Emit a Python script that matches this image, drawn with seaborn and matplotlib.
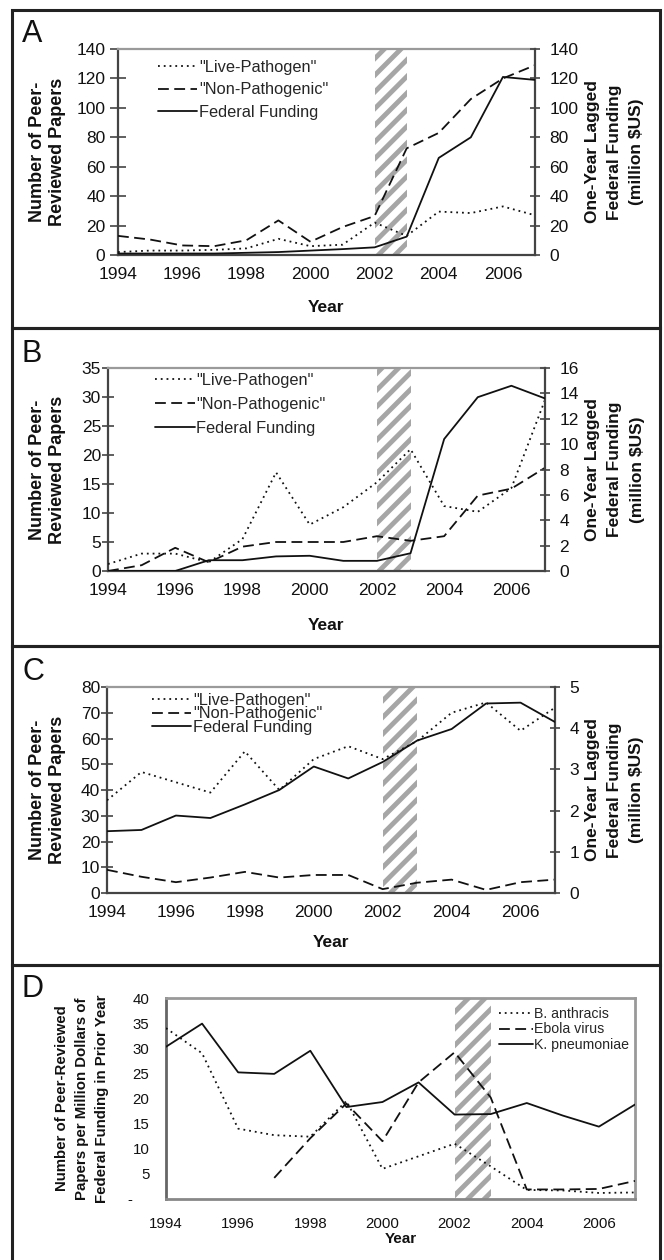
import pandas as pd
import seaborn as sns
import matplotlib.pyplot as plt
from matplotlib.patches import Rectangle

# data
years = list(range(1994, 2008))

a_live = [2, 3, 3, 3.5, 4.5, 11, 6, 7, 22, 13, 29.5, 28.5, 33, 27]
a_nonpath = [13, 10.5, 6.5, 6, 10, 23.5, 9, 19, 26.5, 72.5, 83, 106, 120, 129]
a_funding = [1, 1, 1, 1, 1.5, 2, 3, 4, 5.2, 12.5, 66, 80, 121, 119]

b_live = [1.2, 3, 3, 1.5, 5.5, 17, 8, 11, 15.3, 21, 11.2, 10.2, 14.3, 29.5]
b_nonpath = [0, 1, 4, 1.5, 4.2, 5, 5, 5, 6, 5.2, 6, 13, 14.2, 17.8]
b_funding = [0, 0, 0, 0.85, 0.85, 1.15, 1.2, 0.8, 0.8, 1.4, 10.4, 13.7, 14.6, 13.6]

c_live = [36, 47, 43, 39, 55, 40, 52, 57, 52, 59, 70, 74, 63, 72]
c_nonpath = [9, 6.3, 4.2, 6, 8.2, 6, 7, 7, 1.5, 4, 5.2, 1.2, 4.2, 5.2]
c_funding = [1.5, 1.53, 1.88, 1.82, 2.15, 2.5, 3.07, 2.78, 3.18, 3.7, 3.98, 4.6, 4.62, 4.15]

d_anthracis = [34, 29, 14, 12.7, 12.4, 19.5, 6, 8.5, 11, 6.5, 1.8, 1.7, 1.2, 1.3]
d_ebola = [None, None, None, 4.2, 12.1, 19, 11.5, 23.2, 29.2, 20.2, 1.9, 1.9, 2.0, 3.6]
d_kpneumoniae = [30.3, 34.9, 25.2, 24.9, 29.5, 18.3, 19.3, 23.2, 16.8, 16.9, 19.1, 16.6, 14.4, 18.8]

series_labels = ['"Live-Pathogen"', '"Non-Pathogenic"', 'Federal Funding']
d_labels = ['B. anthracis', 'Ebola virus', 'K. pneumoniae']
left_label = 'Number of Peer-\nReviewed Papers'
right_label = 'One-Year Lagged\nFederal Funding\n(million $US)'
d_ylabel = 'Number of Peer-Reviewed\nPapers per Million Dollars of\nFederal Funding in Prior Year'

sns.set_theme(style='white')
plt.rcParams['font.family'] = ['Liberation Sans', 'DejaVu Sans']
plt.rcParams['hatch.linewidth'] = 3.5

W, H = 664, 1260
INK = '#111111'
AXC = '#444444'
DOT = (0, (1, 2.2))
DASH = (0, (6, 3))


def px_rect(x0, y0, x1, y1):
    return [x0 / W, 1 - y1 / H, (x1 - x0) / W, (y1 - y0) / H]


def add_band(ax):
    ax.axvspan(2002, 2003, facecolor='white', edgecolor='#a6a6a6', hatch='//', linewidth=0, zorder=0.5)


def line(ax, y, style, label):
    df = pd.DataFrame({'year': years, 'value': y}).dropna()
    sns.lineplot(data=df, x='year', y='value', ax=ax, color=INK, linewidth=1.3,
                 linestyle=style, label=label, legend=False, zorder=3)


fig = plt.figure(figsize=(W / 100, H / 100), dpi=100)

# panel frames
for y0, y1 in [(10, 328), (328, 646), (646, 965), (965, 1262)]:
    fig.add_artist(Rectangle((12 / W, 1 - y1 / H), (660 - 12) / W, (y1 - y0) / H,
                             transform=fig.transFigure, fill=False, lw=2.2, ec='#222222'))

panels = [
    dict(letter='A', base=42, rect=(118, 49, 535, 255), live=a_live, non=a_nonpath, fund=a_funding,
         left=(140, 20), right=(140, 20), leg=(0.096, 0.947), lsp=0.45,
         ylab=-0.125, rlab=1.12, xlab=-0.218, ltick=(12, 3)),
    dict(letter='B', base=362, rect=(108, 368, 545, 571), live=b_live, non=b_nonpath, fund=b_funding,
         left=(35, 5), right=(16, 2), leg=(0.108, 0.975), lsp=0.55,
         ylab=-0.096, rlab=1.092, xlab=-0.232, ltick=(8, 1)),
    dict(letter='C', base=680, rect=(107, 687, 555, 893), live=c_live, non=c_nonpath, fund=c_funding,
         left=(80, 10), right=(5, 1), leg=(0.10, 0.971), lsp=-0.1,
         ylab=-0.092, rlab=1.067, xlab=-0.204, ltick=(8, 1)),
]

for p in panels:
    ax = fig.add_axes(px_rect(*p['rect']))
    ax2 = ax.twinx()
    add_band(ax)
    line(ax, p['live'], DOT, series_labels[0])
    line(ax, p['non'], DASH, series_labels[1])
    line(ax2, p['fund'], '-', series_labels[2])

    ax.set_xlim(1994, 2007)
    ax.set_ylim(0, p['left'][0])
    ax2.set_ylim(0, p['right'][0])
    ax.set_xticks(years)
    ax.set_xticklabels([str(y) if y % 2 == 0 else '' for y in years])
    ax.set_yticks(range(0, p['left'][0] + 1, p['left'][1]))
    rmax, rstep = p['right']
    ax2.set_yticks([i * rstep for i in range(int(rmax / rstep) + 1)])

    ax.tick_params(axis='x', direction='inout', length=11, width=1.2, color=AXC,
                   labelsize=12.5, labelcolor=INK, pad=3)
    ax.tick_params(axis='y', direction='inout', length=p['ltick'][0], width=1.2, color=AXC,
                   labelsize=12.5, labelcolor=INK, pad=p['ltick'][1])
    ax2.tick_params(axis='y', direction='inout', length=7, width=1.2, color=AXC,
                    labelsize=12.5, labelcolor=INK, pad=7)

    for s in ['left', 'bottom']:
        ax.spines[s].set_color(AXC)
        ax.spines[s].set_linewidth(1.6)
    ax.spines['top'].set_color('#9a9a9a')
    ax.spines['top'].set_linewidth(1.6)
    ax.spines['right'].set_visible(False)
    for s in ['left', 'bottom', 'top']:
        ax2.spines[s].set_visible(False)
    ax2.spines['right'].set_color(AXC)
    ax2.spines['right'].set_linewidth(1.6)

    ax.set_xlabel('Year', fontsize=12.5, fontweight='bold', color=INK)
    ax.xaxis.set_label_coords(0.5, p['xlab'])
    ax.set_ylabel(left_label, fontsize=13, fontweight='bold', color=INK, linespacing=1.25)
    ax.yaxis.set_label_coords(p['ylab'], 0.5)
    ax2.set_ylabel(right_label, fontsize=12.5, fontweight='bold', color=INK, rotation=90,
                   linespacing=1.6)
    ax2.yaxis.set_label_coords(p['rlab'], 0.5)

    h1, l1 = ax.get_legend_handles_labels()
    h2, l2 = ax2.get_legend_handles_labels()
    ax2.legend(h1 + h2, l1 + l2, loc='upper left', bbox_to_anchor=p['leg'], frameon=False,
               fontsize=11.8, handlelength=2.4, handletextpad=0.1, labelspacing=p['lsp'],
               borderpad=0, borderaxespad=0)
    fig.text(22 / W, 1 - p['base'] / H, p['letter'], fontsize=22, color=INK, va='baseline')

# panel D
axd = fig.add_axes(px_rect(166, 998, 635, 1199))
add_band(axd)
line(axd, d_anthracis, DOT, d_labels[0])
line(axd, d_ebola, DASH, d_labels[1])
line(axd, d_kpneumoniae, '-', d_labels[2])
axd.set_xlim(1994, 2007)
axd.set_ylim(0, 40)
even_years = [y for y in years if y % 2 == 0]
axd.set_xticks(even_years)
axd.set_xticklabels([str(y) for y in even_years])
axd.set_yticks(range(0, 41, 5))
axd.set_yticklabels(['-    '] + [str(v) for v in range(5, 41, 5)])
axd.tick_params(axis='x', direction='out', length=5, width=1.0, color=AXC,
                labelsize=10.8, labelcolor=INK, pad=8)
axd.tick_params(axis='y', direction='out', length=4, width=1.0, color=AXC,
                labelsize=10.8, labelcolor=INK, pad=8)
axd.spines['left'].set_color('#666666')
axd.spines['bottom'].set_color('#888888')
for s in ['top', 'right']:
    axd.spines[s].set_color('#999999')
for s in axd.spines.values():
    s.set_linewidth(2.0)
axd.set_xlabel('Year', fontsize=11, fontweight='bold', color=INK)
axd.xaxis.set_label_coords(0.5, -0.165)
axd.set_ylabel(d_ylabel, fontsize=10.8, fontweight='bold', color=INK, linespacing=1.55)
axd.yaxis.set_label_coords(-0.121, 0.5)
axd.legend(loc='upper left', bbox_to_anchor=(0.71, 0.955), frameon=False, fontsize=10.2,
           handlelength=2.4, handletextpad=0.1, labelspacing=0.1, borderpad=0, borderaxespad=0)
fig.text(22 / W, 1 - 997 / H, 'D', fontsize=22, color=INK, va='baseline')

fig.savefig('out.png', dpi=100)
